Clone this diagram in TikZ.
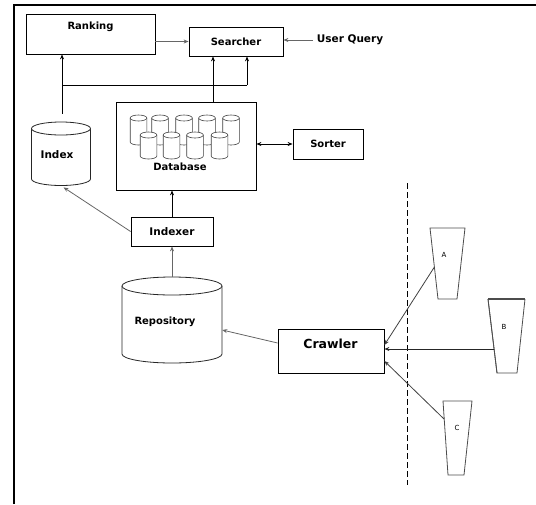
\documentclass[tikz,border=0pt]{standalone}
\usepackage{fontspec}
\setmainfont{DejaVu Sans}
\usetikzlibrary{arrows.meta}
\newcommand\mycyl[7]{%
  \node[inner sep=0pt, minimum width={2*#5*1pt}, minimum height={(#4-#3+2*#6)*1pt}] (#1) at ({#2},{(#3+#4)/2}) {};
  \draw[#7] ({#2-#5},#3) -- ({#2-#5},#4) arc[start angle=180,end angle=360,x radius=#5pt,y radius=#6pt] -- ({#2+#5},#3) arc[start angle=0,end angle=180,x radius=#5pt,y radius=#6pt] -- cycle;
  \draw[#7] ({#2-#5},#3) arc[start angle=180,end angle=360,x radius=#5pt,y radius=#6pt];
}
\begin{document}
\begin{tikzpicture}[x=1pt,y=-1pt,
  box/.style={draw=black, line width=0.8pt, fill=white, inner sep=0pt, font=\bfseries\fontsize{10}{12}\selectfont},
  lbl/.style={font=\bfseries\fontsize{10}{12}\selectfont, inner sep=0pt},
  cyl/.style={draw=black!85, line width=0.8pt, fill=white},
  scyl/.style={draw=black!75, line width=0.6pt, fill=white},
  arr/.style={draw=black, line width=0.8pt, -{Stealth[length=5pt,width=4pt]}},
  garr/.style={draw=black!60, line width=0.8pt, -{Stealth[length=5pt,width=4pt]}},
  cup/.style={draw=black!70, line width=0.8pt},
  small/.style={font=\fontsize{7}{8}\selectfont, inner sep=0pt}]
\useasboundingbox (0,0) rectangle (536,504);
% frame
\draw[line width=1.6pt] (14,504) -- (14,5) -- (536,5);
% boxes
\node[box, minimum width=129pt, minimum height=40pt] (ranking) at (90.5,34) {};
\node[lbl] (rankingtxt) at (90.5,27) {Ranking};
\node[box, minimum width=94pt, minimum height=29pt] (searcher) at (236,41.5) {Searcher};
\node[lbl, font=\bfseries\fontsize{10.5}{12}\selectfont] (uq) at (350,40) {User Query};
\node[box, minimum width=140pt, minimum height=88pt] (database) at (186,146) {};
\node[box, minimum width=70pt, minimum height=30pt] (sorter) at (328,144) {Sorter};
\node[box, minimum width=82pt, minimum height=29pt, font=\bfseries\fontsize{10.5}{12}\selectfont] (indexer) at (172,231.5) {Indexer};
\node[box, minimum width=106pt, minimum height=44pt] (crawler) at (331,351) {};
\node[lbl, font=\bfseries\fontsize{12.5}{14}\selectfont] (crawlertxt) at (330.5,344) {Crawler};
% cylinders
\mycyl{index}{61}{128.5}{179}{29.5}{6.5}{cyl}
\node[lbl, font=\bfseries\fontsize{10.5}{12}\selectfont] (indextxt) at (57,155) {Index};
\mycyl{repo}{172}{286}{354}{50}{9}{cyl}
\node[lbl] (repotxt) at (165,322) {Repository};
% database cylinders
\mycyl{db1}{138.5}{118}{142}{8.3}{3}{scyl}
\mycyl{db2}{160}{118}{142}{8.3}{3}{scyl}
\mycyl{db3}{184}{118}{142}{8.3}{3}{scyl}
\mycyl{db4}{207}{118}{142}{8.3}{3}{scyl}
\mycyl{db5}{231}{118}{142}{8.3}{3}{scyl}
\mycyl{db6}{148.5}{135}{156}{8.3}{3}{scyl}
\mycyl{db7}{171.5}{135}{156}{8.3}{3}{scyl}
\mycyl{db8}{195}{135}{156}{8.3}{3}{scyl}
\mycyl{db9}{219.5}{135}{156}{8.3}{3}{scyl}
\node[lbl] (dbtxt) at (180,167) {Database};
% connectors top
\coordinate (j1) at (62,85);
\coordinate (j2) at (247,85);
\draw[arr, shorten <=8pt] (index.north -| j1) -- (j1 |- ranking.south);
\draw[line width=0.8pt] (j1) -- (j2);
\draw[arr] (j2) -- (j2 |- searcher.south);
\draw[arr] ([xshift=27pt]database.north) -- ([xshift=27pt]database.north |- searcher.south);
\draw[garr] (searcher.west -| ranking.east) -- (searcher.west);
\draw[garr, shorten <=4pt] (uq.west) -- (uq.west -| searcher.east);
\draw[arr, {Stealth[length=5pt,width=4pt]}-{Stealth[length=5pt,width=4pt]}] (sorter.west -| database.east) -- (sorter.west);
% middle connectors
\draw[arr] (indexer.north) -- (indexer.north |- database.south);
\draw[garr, shorten >=3pt] (indexer.west) -- (index.south);
\draw[garr] (repo.north) -- (indexer.south);
\draw[garr] ([yshift=8pt]crawler.west) -- ([yshift=-10pt]repo.east);
% dashed divider
\draw[line width=0.8pt, dash pattern=on 6pt off 3pt] (407,183) -- (407,485);
% sites
\draw[cup] (430,228) -- (465,228) -- (457,299) -- (438,299) -- cycle;
\draw[cup] (497,373) -- (488,299);
\draw[cup] (488,299) -- (497,373) -- (517,373) -- (525,299);
\draw[line width=1.3pt, draw=black!70] (488,299) -- (525,299);
\draw[cup] (443,401) -- (472,401) -- (464,475) -- (448,475) -- cycle;
\node[small] (labA) at (444,255) {A};
\node[small] (labB) at (504,327) {B};
\node[small] (labC) at (457,428) {C};
\coordinate (aL) at (434.4,267);
\coordinate (bL) at (494,349);
\coordinate (cL) at (444,419);
\draw[arr, draw=black!75] (aL) -- ([yshift=6pt]crawler.east);
\draw[arr, draw=black!85] (bL) -- ([yshift=2pt]crawler.east);
\draw[arr, draw=black!75] (cL) -- ([yshift=-10pt]crawler.east);
\end{tikzpicture}
\end{document}
